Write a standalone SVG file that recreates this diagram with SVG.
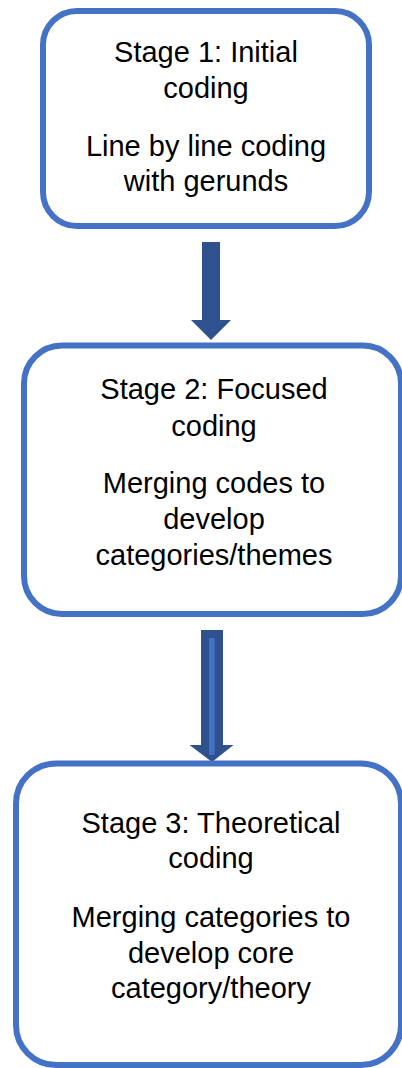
<svg xmlns="http://www.w3.org/2000/svg" width="402" height="1068" viewBox="0 0 402 1068">
  <style>
    .box { fill: #FFFFFF; stroke: #4472C4; stroke-width: 6; }
    .label { font-family: "Liberation Sans", Arial, sans-serif; font-size: 29px; fill: #000000; text-anchor: middle; }
    .arrow { fill: #2F528F; }
    .stripe { fill: #4472C4; }
  </style>
  <rect width="402" height="1068" fill="#FFFFFF"/>

  <!-- connectors between stages -->
  <g id="connectors">
    <polygon class="arrow" points="202,242 220,242 220,320 231,320 211,340 191,320 202,320"/>
    <polygon class="arrow" points="201,630 223,630 223,745 233.5,745 212,762 189.5,745 201,745"/>
    <rect class="stripe" x="209" y="638" width="5.5" height="117" rx="1"/>
  </g>

  <g id="stage1">
    <rect class="box" x="43" y="11" width="326" height="215" rx="34"/>
    <text class="label" x="206" y="62">Stage 1: Initial</text>
    <text class="label" x="206" y="98">coding</text>
    <text class="label" x="206" y="156">Line by line coding</text>
    <text class="label" x="206" y="191">with gerunds</text>
  </g>

  <g id="stage2">
    <rect class="box" x="24" y="345.5" width="377" height="268.5" rx="38"/>
    <text class="label" x="214" y="399">Stage 2: Focused</text>
    <text class="label" x="214" y="435.5">coding</text>
    <text class="label" x="214" y="493">Merging codes to</text>
    <text class="label" x="214" y="529">develop</text>
    <text class="label" x="214" y="565">categories/themes</text>
  </g>

  <g id="stage3">
    <rect class="box" x="16" y="763.5" width="385" height="301.5" rx="40"/>
    <text class="label" x="211" y="832.7">Stage 3: Theoretical</text>
    <text class="label" x="211" y="868.3">coding</text>
    <text class="label" x="211" y="926.7">Merging categories to</text>
    <text class="label" x="211" y="962.7">develop core</text>
    <text class="label" x="211" y="998.3">category/theory</text>
  </g>
</svg>
